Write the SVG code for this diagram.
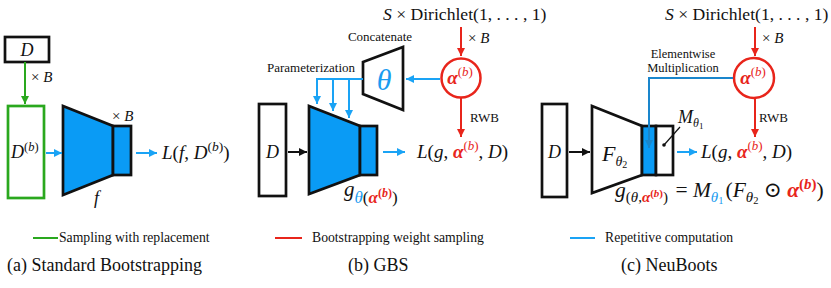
<svg xmlns="http://www.w3.org/2000/svg" width="831" height="288" viewBox="0 0 831 288" font-family="'Liberation Serif', 'Times New Roman', 'DejaVu Serif', serif">
<style>
text, tspan { font-family: 'Liberation Serif', 'Times New Roman', 'DejaVu Serif', serif; }
text{fill:#111}
.m{font-size:18px}
.i{font-style:italic}
.lbl{font-size:13px}
.leg{font-size:13.7px}
.cap{font-size:18px}
.box{fill:#fff;stroke:#111;stroke-width:2.7}
.net{fill:#0a9bf5;stroke:#111;stroke-width:2.7}
.r{fill:#e8251b}
.ra{fill:#e8251b;font-weight:bold;font-style:italic}
.bl{fill:#1a9cf0}
.ab{stroke:#1aa3f5;stroke-width:2;fill:none}
.ar{stroke:#e8251b;stroke-width:2;fill:none}
.ag{stroke:#2aa81e;stroke-width:2;fill:none}
.ak{stroke:#111;stroke-width:2;fill:none}
.ad{stroke:#1a86cc;stroke-width:2;fill:none}
</style>
<defs>
<marker id="mb" viewBox="0 0 10 10" refX="10" refY="5" markerWidth="8" markerHeight="8" markerUnits="userSpaceOnUse" orient="auto"><path d="M0,0L10,5L0,10z" fill="#1aa3f5"/></marker>
<marker id="mr" viewBox="0 0 10 10" refX="10" refY="5" markerWidth="8" markerHeight="8" markerUnits="userSpaceOnUse" orient="auto"><path d="M0,0L10,5L0,10z" fill="#e8251b"/></marker>
<marker id="mg" viewBox="0 0 10 10" refX="10" refY="5" markerWidth="8" markerHeight="8" markerUnits="userSpaceOnUse" orient="auto"><path d="M0,0L10,5L0,10z" fill="#2aa81e"/></marker>
<marker id="mk" viewBox="0 0 10 10" refX="10" refY="5" markerWidth="8" markerHeight="8" markerUnits="userSpaceOnUse" orient="auto"><path d="M0,0L10,5L0,10z" fill="#111"/></marker>
<marker id="md" viewBox="0 0 10 10" refX="10" refY="5" markerWidth="8" markerHeight="8" markerUnits="userSpaceOnUse" orient="auto"><path d="M0,0L10,5L0,10z" fill="#1a86cc"/></marker>
</defs>
<rect width="831" height="288" fill="#fff"/>

<!-- Panel (a) -->
<g id="a-data">
<rect class="box" x="5" y="37" width="44" height="25"/>
<text x="27" y="56" class="m i" text-anchor="middle">D</text>
</g>
<g id="a-resample">
<rect x="8" y="106" width="36" height="92" fill="#fff" stroke="#2aa81e" stroke-width="2.7"/>
<text x="11" y="158" class="m"><tspan class="i">D</tspan><tspan dy="-7" font-size="12.5">(<tspan class="i">b</tspan>)</tspan></text>
</g>
<g id="a-net">
<polygon class="net" points="63,106 113,126 113,175 63,195"/>
<rect class="net" x="113" y="126" width="18" height="49"/>
<text x="112" y="121" font-size="15">× <tspan class="i">B</tspan></text>
<text x="94" y="204" class="m i">f</text>
</g>
<g id="a-loss">
<text x="162" y="159" font-size="19"><tspan class="i">L</tspan>(<tspan class="i">f</tspan>, <tspan class="i">D</tspan><tspan dy="-8" font-size="13.5">(<tspan class="i">b</tspan>)</tspan><tspan dy="8">)</tspan></text>
</g>
<text x="31" y="82" font-size="15">× <tspan class="i">B</tspan></text>

<!-- Panel (b) -->
<g id="b-data">
<rect class="box" x="259" y="104" width="27" height="92"/>
<text x="272.5" y="158" class="m i" text-anchor="middle">D</text>
</g>
<g id="b-net">
<polygon class="net" points="309,106 360,126 360,175 309,194"/>
<rect class="net" x="360" y="126" width="17" height="49"/>
<text x="344" y="196" font-size="21"><tspan class="i">g</tspan><tspan dy="7" font-size="17"><tspan class="bl i">θ</tspan>(<tspan class="ra">α</tspan></tspan><tspan dy="-6" font-size="12" class="r" font-weight="bold">(<tspan class="i">b</tspan>)</tspan><tspan dy="6" font-size="17">)</tspan></text>
</g>
<g id="b-hyper">
<polygon class="box" points="363,62 403,47 403,110 363,94"/>
<text x="384" y="90" font-size="30" class="bl i" text-anchor="middle">θ</text>
<text x="380" y="41" class="lbl" text-anchor="middle">Concatenate</text>
</g>
<g id="b-alpha">
<circle cx="461" cy="78" r="19.5" fill="#fff" stroke="#e8251b" stroke-width="2.5"/>
<text x="460" y="84" font-size="19" text-anchor="middle"><tspan class="ra">α</tspan><tspan dy="-8" font-size="13" class="r">(<tspan class="i">b</tspan>)</tspan></text>
</g>
<g id="b-dir">
<text x="383" y="20" font-size="17.6"><tspan class="i">S</tspan> × Dirichlet(1, . . . , 1)</text>
</g>
<g id="b-loss">
<text x="417" y="158" font-size="19"><tspan class="i">L</tspan>(<tspan class="i">g</tspan>, <tspan class="ra">α</tspan><tspan dy="-8" font-size="13" class="r">(<tspan class="i">b</tspan>)</tspan><tspan dy="8">, </tspan><tspan class="i">D</tspan>)</text>
</g>
<text x="267" y="72" class="lbl">Parameterization</text>
<text x="468" y="43" font-size="15">× <tspan class="i">B</tspan></text>
<text x="470" y="122" class="lbl">RWB</text>

<!-- Panel (c) -->
<g id="c-data">
<rect class="box" x="542" y="104" width="25" height="93"/>
<text x="554.5" y="158" class="m i" text-anchor="middle">D</text>
</g>
<g id="c-net">
<polygon class="box" points="592,106 642,126 642,175 592,193"/>
<rect class="net" x="642" y="126" width="14" height="49"/>
<rect class="box" x="656" y="126" width="17" height="49"/>
<text x="602" y="161" font-size="22"><tspan class="i">F</tspan><tspan dy="5" font-size="14" class="i">θ</tspan><tspan dy="2" font-size="10">2</tspan></text>
<text x="678" y="123" font-size="18"><tspan class="i">M</tspan><tspan dy="4" font-size="12" class="i">θ</tspan><tspan dy="2" font-size="9">1</tspan></text>
<line x1="680" y1="127" x2="664" y2="145" stroke="#111" stroke-width="1.2"/>
<circle cx="664" cy="145" r="1.8" fill="#111"/>
</g>
<g id="c-alpha">
<circle cx="754" cy="78" r="20" fill="#fff" stroke="#e8251b" stroke-width="2.5"/>
<text x="753" y="84" font-size="19" text-anchor="middle"><tspan class="ra">α</tspan><tspan dy="-8" font-size="13" class="r">(<tspan class="i">b</tspan>)</tspan></text>
</g>
<g id="c-dir">
<text x="665" y="20" font-size="17.6"><tspan class="i">S</tspan> × Dirichlet(1, . . . , 1)</text>
</g>
<g id="c-loss">
<text x="701" y="158" font-size="19"><tspan class="i">L</tspan>(<tspan class="i">g</tspan>, <tspan class="ra">α</tspan><tspan dy="-8" font-size="13" class="r">(<tspan class="i">b</tspan>)</tspan><tspan dy="8">, </tspan><tspan class="i">D</tspan>)</text>
</g>
<g id="c-formula">
<text x="615" y="197" font-size="21.5"><tspan class="i">g</tspan><tspan dy="5" font-size="15">(<tspan class="i">θ</tspan>,<tspan class="ra">α</tspan></tspan><tspan dy="-5" font-size="11" class="r" font-weight="bold">(<tspan class="i">b</tspan>)</tspan><tspan dy="5" font-size="15">)</tspan><tspan dy="-5" dx="2"> = </tspan><tspan class="i">M</tspan><tspan dy="5" font-size="15" class="bl i">θ</tspan><tspan dy="2" font-size="10.5" class="bl">1</tspan><tspan dy="-7" dx="2">(</tspan><tspan class="i">F</tspan><tspan dy="5" font-size="15" class="i">θ</tspan><tspan dy="2" font-size="10.5">2</tspan><tspan dy="-7"> ⊙ </tspan><tspan class="ra">α</tspan><tspan dy="-8" font-size="15" class="r" font-weight="bold">(<tspan class="i">b</tspan>)</tspan><tspan dy="8">)</tspan></text>
</g>
<text x="683" y="58" font-size="12.5" text-anchor="middle">Elementwise</text>
<text x="683" y="72" font-size="12.5" text-anchor="middle">Multiplication</text>
<text x="762" y="43" font-size="15">× <tspan class="i">B</tspan></text>
<text x="759" y="122" class="lbl">RWB</text>

<!-- Connectors -->
<g id="connectors">
<line class="ag" x1="25" y1="62" x2="25" y2="104" marker-end="url(#mg)"/>
<line class="ab" x1="46" y1="153" x2="62" y2="153" marker-end="url(#mb)"/>
<line class="ab" x1="136" y1="153" x2="157" y2="153" marker-end="url(#mb)"/>

<line class="ak" x1="288" y1="152" x2="307" y2="152" marker-end="url(#mk)"/>
<line class="ab" x1="383" y1="152" x2="405" y2="152" marker-end="url(#mb)"/>
<line class="ab" x1="440" y1="79" x2="406" y2="79" marker-end="url(#mb)"/>
<path class="ab" d="M363,79H317V104" marker-end="url(#mb)"/>
<line class="ab" x1="333" y1="79" x2="333" y2="111" marker-end="url(#mb)"/>
<line class="ab" x1="349" y1="79" x2="349" y2="118" marker-end="url(#mb)"/>
<line class="ar" x1="461" y1="27" x2="461" y2="56" marker-end="url(#mr)"/>
<line class="ar" x1="461" y1="98" x2="461" y2="137" marker-end="url(#mr)"/>

<line class="ak" x1="569" y1="152" x2="590" y2="152" marker-end="url(#mk)"/>
<path class="ad" d="M733,78H649V148" marker-end="url(#md)"/>
<line class="ab" x1="677" y1="152" x2="697" y2="152" marker-end="url(#mb)"/>
<line class="ar" x1="755" y1="27" x2="755" y2="56" marker-end="url(#mr)"/>
<line class="ar" x1="755" y1="98" x2="755" y2="137" marker-end="url(#mr)"/>
</g>

<!-- Legend -->
<g id="legend">
<line x1="33" y1="238" x2="58" y2="238" stroke="#2aa81e" stroke-width="2"/>
<text x="59" y="242" class="leg">Sampling with replacement</text>
<line x1="275" y1="238" x2="302" y2="238" stroke="#e8251b" stroke-width="2"/>
<text x="312" y="242" class="leg">Bootstrapping weight sampling</text>
<line x1="570" y1="238" x2="595" y2="238" stroke="#1aa3f5" stroke-width="2"/>
<text x="605" y="242" class="leg">Repetitive computation</text>
</g>
<g id="captions">
<text x="7" y="271" class="cap">(a) Standard Bootstrapping</text>
<text x="348" y="271" class="cap">(b) GBS</text>
<text x="621" y="271" class="cap">(c) NeuBoots</text>
</g>
</svg>
